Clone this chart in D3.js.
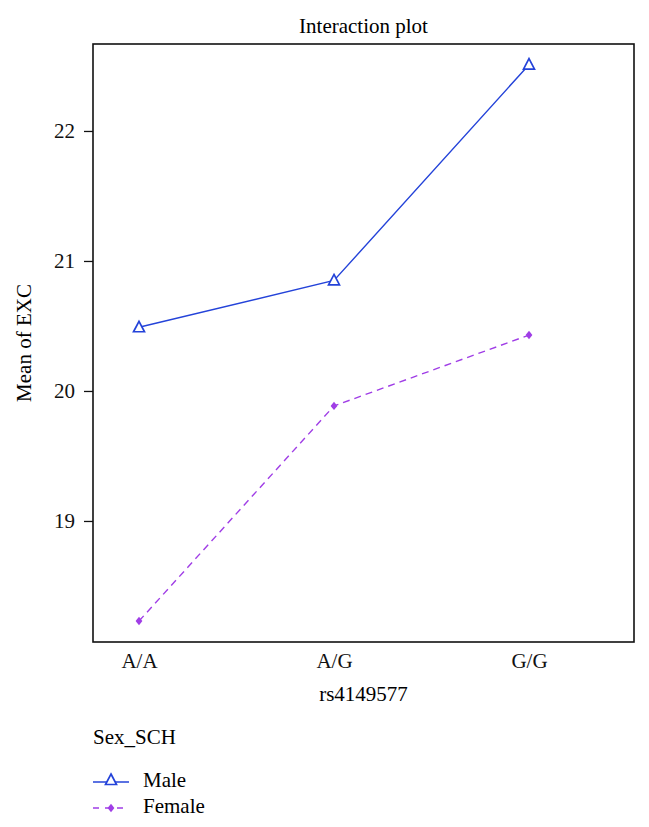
<!DOCTYPE html>
<html><head><meta charset="utf-8">
<script src="https://cdn.jsdelivr.net/npm/d3@7"></script>
<style>body{margin:0;background:#fff}</style>
</head><body>
<svg id="c" width="649" height="827"></svg>
<script>
const categories = ["A/A", "A/G", "G/G"];
const maleValues = [20.49, 20.85, 22.51];
const femaleValues = [18.23, 19.885, 20.43];
const yTicks = [19, 20, 21, 22];
const seriesNames = ["Male", "Female"];

const font = "'Liberation Serif', 'DejaVu Serif', serif";
const fs = "21px";
const svg = d3.select("#c");
const L = 93, R = 634, T = 44, B = 642;

const x = d3.scalePoint().domain(categories).range([139, 529]);
const y = d3.scaleLinear().domain([18.069, 22.669]).range([B, T]);

const series = [
  {name: seriesNames[0], values: maleValues, color: "#2443d9", dash: null, marker: "tri"},
  {name: seriesNames[1], values: femaleValues, color: "#a03ee6", dash: "7,5", marker: "dia"}
];

// title
svg.append("text").attr("x", (L + R) / 2).attr("y", 33).attr("text-anchor", "middle")
  .style("font-family", font).style("font-size", fs).text("Interaction plot");

// frame
svg.append("rect").attr("x", L).attr("y", T).attr("width", R - L).attr("height", B - T)
  .attr("fill", "none").attr("stroke", "#111").attr("stroke-width", 1.6);

// y axis
const yAxis = d3.axisLeft(y).tickValues(yTicks).tickSize(9).tickPadding(9).tickFormat(d3.format("d"));
const yg = svg.append("g").attr("transform", `translate(${L},0)`).call(yAxis);
yg.select(".domain").remove();
yg.selectAll("line").attr("stroke", "#111").attr("stroke-width", 1.3);
yg.selectAll("text").style("font-family", font).style("font-size", fs).attr("fill", "#111");

// x axis labels
const xAxis = d3.axisBottom(x).tickSize(0);
const xg = svg.append("g").attr("transform", `translate(0,${B})`).call(xAxis);
xg.select(".domain").remove();
xg.selectAll("text").attr("y", 26).attr("dy", null)
  .style("font-family", font).style("font-size", fs).attr("fill", "#111");

// axis titles
svg.append("text").attr("x", (L + R) / 2).attr("y", 701).attr("text-anchor", "middle")
  .style("font-family", font).style("font-size", fs).text("rs4149577");
svg.append("text").attr("transform", `translate(31,${(T + B) / 2}) rotate(-90)`).attr("text-anchor", "middle")
  .style("font-family", font).style("font-size", fs).text("Mean of EXC");

const line = d3.line().x((d, i) => x(categories[i])).y(d => y(d));
const triPath = "M0,-6L5.5,4.5L-5.5,4.5Z";
const diaPath = "M0,-4.2L3.4,0L0,4.2L-3.4,0Z";

function drawMarker(g, s, cx, cy) {
  if (s.marker === "tri") {
    g.append("path").attr("d", triPath).attr("transform", `translate(${cx},${cy})`)
      .attr("fill", "#fff").attr("stroke", s.color).attr("stroke-width", 1.7);
  } else {
    g.append("path").attr("d", diaPath).attr("transform", `translate(${cx},${cy})`)
      .attr("fill", s.color);
  }
}

series.forEach(s => {
  svg.append("path").datum(s.values).attr("d", line).attr("fill", "none")
    .attr("stroke", s.color).attr("stroke-width", 1.4)
    .attr("stroke-dasharray", s.dash);
  const g = svg.append("g");
  s.values.forEach((v, i) => drawMarker(g, s, x(categories[i]), y(v)));
});

// legend
svg.append("text").attr("x", 93).attr("y", 744)
  .style("font-family", font).style("font-size", fs).text("Sex_SCH");
series.forEach((s, i) => {
  const ly = 782 + i * 26;
  svg.append("line").attr("x1", 93).attr("x2", 129).attr("y1", ly).attr("y2", ly)
    .attr("stroke", s.color).attr("stroke-width", 1.4).attr("stroke-dasharray", s.dash ? "6,6" : null);
  const g = svg.append("g");
  drawMarker(g, s, 111, ly - (s.marker === "tri" ? 2 : 0));
  svg.append("text").attr("x", 143).attr("y", ly + 5)
    .style("font-family", font).style("font-size", fs).text(s.name);
});
</script>
</body></html>
